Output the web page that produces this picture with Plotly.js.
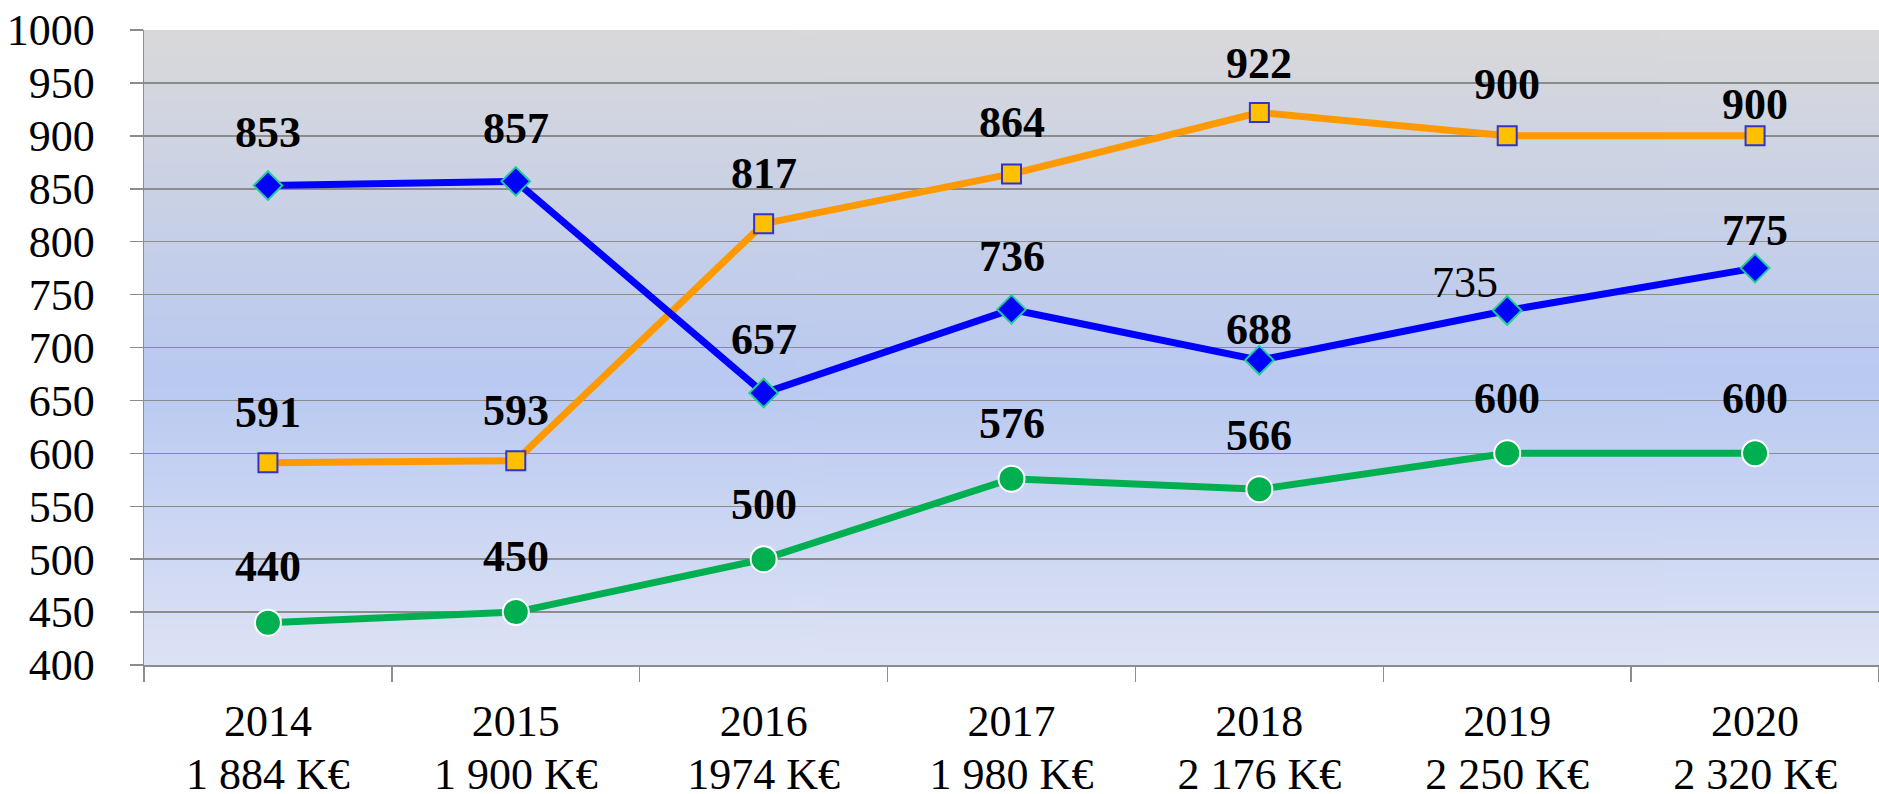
<!DOCTYPE html>
<html>
<head>
<meta charset="utf-8">
<script src="https://cdn.plot.ly/plotly-3.0.1.min.js"></script>
<style>
  body { margin: 0; background: #fff; }
  #myDiv { width: 1879px; height: 794px; }
</style>
</head>
<body>
<div id="myDiv"></div>
<script>
var years = ['2014', '2015', '2016', '2017', '2018', '2019', '2020'],
    budgets = ['1 884 K€', '1 900 K€', '1974 K€', '1 980 K€', '2 176 K€', '2 250 K€', '2 320 K€'],
    blueVals = [853, 857, 657, 736, 688, 735, 775],
    orangeVals = [591, 593, 817, 864, 922, 900, 900],
    greenVals = [440, 450, 500, 576, 566, 600, 600];

// label placement tweaks (pixels above the marker, default ~50)
var blueShift = [50, 50, 51, 50, 28, 25, 35],
    blueXShift = [0, 0, 0, 0, 0, -42, 0],
    orangeShift = [47, 47, 47, 48, 46, 48, 28],
    greenShift = [53, 53, 52, 52, 51, 52, 52];

var serif = 'Liberation Serif, Times New Roman, serif';

// background gradient for the plot area
var cv = document.createElement('canvas');
cv.width = 4; cv.height = 400;
var ctx = cv.getContext('2d');
var g = ctx.createLinearGradient(0, 0, 0, 400);
g.addColorStop(0, '#d9d9db');
g.addColorStop(0.55, '#b9c9f1');
g.addColorStop(1, '#dde3f5');
ctx.fillStyle = g;
ctx.fillRect(0, 0, 4, 400);
var bgUrl = cv.toDataURL();

var data = [
  {x: years, y: orangeVals, type: 'scatter', mode: 'lines+markers',
   line: {color: '#ff9900', width: 7},
   marker: {symbol: 'square', size: 19, color: '#ffc000', line: {color: '#3333cc', width: 2}}},
  {x: years, y: blueVals, type: 'scatter', mode: 'lines+markers',
   line: {color: '#0000ff', width: 7},
   marker: {symbol: 'diamond', size: 22, color: '#0000ff', line: {color: '#22cc99', width: 2}}},
  {x: years, y: greenVals, type: 'scatter', mode: 'lines+markers',
   line: {color: '#00b050', width: 7},
   marker: {symbol: 'circle', size: 26, color: '#00b050', line: {color: '#ffffff', width: 2}}},
  // invisible trace so the second (budget) label row gets drawn
  {x: years, y: greenVals, xaxis: 'x2', type: 'scatter', mode: 'markers',
   marker: {opacity: 0}, hoverinfo: 'skip'}
];

var annotations = [];
function addLabels(vals, shifts, xshifts) {
  for (var i = 0; i < vals.length; i++) {
    var bold = !(vals === blueVals && i === 5);
    annotations.push({
      x: i, y: vals[i], xref: 'x', yref: 'y',   // category index
      text: bold ? '<b>' + vals[i] + '</b>' : String(vals[i]),
      showarrow: false,
      yshift: shifts[i] + 3,
      xshift: xshifts ? xshifts[i] : 0,
      font: {family: serif, size: 44, color: '#000'}
    });
  }
}
addLabels(blueVals, blueShift, blueXShift);
addLabels(orangeVals, orangeShift);
addLabels(greenVals, greenShift);

var layout = {
  width: 1879, height: 794,
  margin: {l: 144, r: 0, t: 30, b: 129},
  showlegend: false,
  paper_bgcolor: '#ffffff',
  plot_bgcolor: 'rgba(0,0,0,0)',
  font: {family: serif, size: 44, color: '#000'},
  images: [{source: bgUrl, xref: 'paper', yref: 'paper', x: 0, y: 1,
            sizex: 1, sizey: 1, sizing: 'stretch', xanchor: 'left', yanchor: 'top',
            layer: 'below'}],
  xaxis: {
    type: 'category',
    range: [-0.5, 6.5],
    showgrid: false,
    showline: true, linecolor: '#8c8c8c', linewidth: 1.5,
    ticks: 'outside', tickson: 'boundaries', ticklen: 15,
    tickcolor: '#8c8c8c', tickwidth: 1.5,
    tickfont: {family: serif, size: 44, color: '#000'},
    ticklabelstandoff: 17,
    fixedrange: true
  },
  xaxis2: {
    type: 'category',
    overlaying: 'x', anchor: 'y', side: 'bottom',
    range: [-0.5, 6.5],
    showgrid: false, showline: false,
    ticks: 'outside', ticklen: 15, tickcolor: 'rgba(0,0,0,0)',
    tickvals: years, ticktext: budgets,
    tickfont: {family: serif, size: 44, color: '#000'},
    ticklabelstandoff: 55,
    fixedrange: true
  },
  yaxis: {
    range: [400, 1000],
    dtick: 50,
    showgrid: true, gridcolor: '#8c8c8c', gridwidth: 1.5,
    showline: true, linecolor: '#8c8c8c', linewidth: 1.5,
    ticks: 'outside', ticklen: 13, tickcolor: '#8c8c8c', tickwidth: 1.5,
    tickfont: {family: serif, size: 44, color: '#000'},
    ticklabelstandoff: 26,
    zeroline: false,
    fixedrange: true
  },
  annotations: annotations
};

Plotly.newPlot('myDiv', data, layout, {displayModeBar: false, staticPlot: true});
</script>
</body>
</html>
